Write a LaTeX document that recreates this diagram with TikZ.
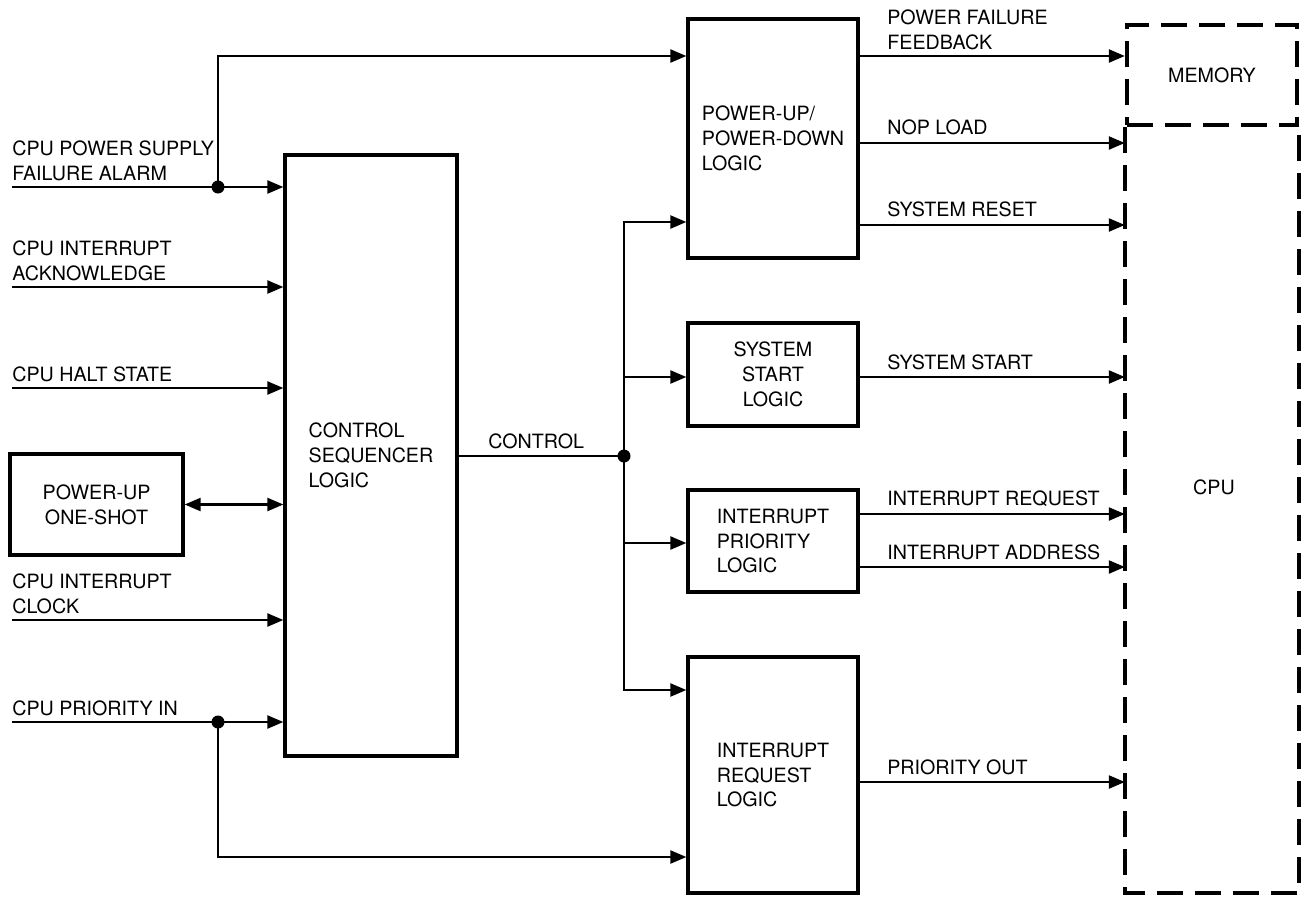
\documentclass[tikz,border=0pt]{standalone}
\usepackage{fontspec}
\setmainfont{TeX Gyre Heros}
\usetikzlibrary{arrows.meta,positioning}
\newcommand\sigfont{\fontsize{11.2}{14.2}\selectfont}
\tikzset{
  block/.style={draw, line width=1.9pt, align=left, font=\sigfont, inner sep=0pt},
  sig/.style={line width=1.3pt, -{Triangle[length=0.32cm,width=0.26cm]}},
  wire/.style={line width=1.3pt},
  lbl/.style={anchor=south west, inner sep=0pt, align=left, font=\sigfont},
  dot/.style={circle, fill, inner sep=0pt, minimum size=0.26cm},
  cut/.style={line width=2.5pt, dash pattern=on 0.52cm off 0.24cm}
}
\begin{document}
\begin{tikzpicture}[x=0.02cm, y=-0.02cm]
\useasboundingbox (0,0) rectangle (1309,900);
% blocks
\node[block, minimum width=3.44cm, minimum height=12.02cm] (csl) at (371,455.5) {CONTROL\\SEQUENCER\\LOGIC};
\node[block, align=center, minimum width=3.46cm, minimum height=2.02cm] (one) at (96.5,504.5) {POWER-UP\\ONE-SHOT};
\node[block, minimum width=3.4cm, minimum height=4.78cm] (pupd) at (773,138.5) {POWER-UP/\\POWER-DOWN\\LOGIC};
\node[block, align=center, minimum width=3.4cm, minimum height=2.06cm] (ssl) at (773,374.5) {SYSTEM\\START\\LOGIC};
\node[block, minimum width=3.4cm, minimum height=2.04cm] (ipl) at (773,541) {INTERRUPT\\PRIORITY\\LOGIC};
\node[block, minimum width=3.4cm, minimum height=4.72cm] (irl) at (773,775) {INTERRUPT\\REQUEST\\LOGIC};
\node[draw, cut, font=\sigfont, minimum width=3.4cm, minimum height=2cm] (mem) at (1212,75) {MEMORY};
\node[font=\sigfont] (cpu) at (1214,487) {CPU};
\coordinate (cpubase) at (1127,893);
\draw[cut] (mem.south west) -- (mem.south west |- cpubase) -- (mem.south east |- cpubase) -- (mem.south east);

% input signals
\coordinate (in1) at (12,187);
\coordinate (in2) at (12,287);
\coordinate (in3) at (12,388);
\coordinate (in4) at (12,620);
\coordinate (in5) at (12,722);
\draw[sig] (in1) -- (in1 -| csl.west);
\draw[sig] (in2) -- (in2 -| csl.west);
\draw[sig] (in3) -- (in3 -| csl.west);
\draw[sig] (in4) -- (in4 -| csl.west);
\draw[sig] (in5) -- (in5 -| csl.west);
\node[lbl] (l1) at (12,181) {CPU POWER SUPPLY\\FAILURE ALARM};
\node[lbl] (l2) at (12,281) {CPU INTERRUPT\\ACKNOWLEDGE};
\node[lbl] (l3) at (12,382) {CPU HALT STATE};
\node[lbl] (l4) at (12,614) {CPU INTERRUPT\\CLOCK};
\node[lbl] (l5) at (12,716) {CPU PRIORITY IN};
\draw[wire, {Triangle[length=0.32cm,width=0.26cm]}-{Triangle[length=0.32cm,width=0.26cm]}] (one.east) -- (one.east -| csl.west);

% junctions
\node[dot] (j1) at (218,187) {};
\node[dot] (j2) at (218,722) {};
\coordinate (r1) at (0,56);
\coordinate (r9) at (0,857);
\draw[sig] (j1.center) |- (pupd.west |- r1);
\draw[sig] (j2.center) |- (irl.west |- r9);

% control bus
\node[dot] (bus) at (624,456) {};
\draw[wire] (csl.east |- bus) -- (bus.center);
\node[lbl] (ctl) at (488,449) {CONTROL};
\coordinate (b1) at (0,222);
\coordinate (b2) at (0,377);
\coordinate (b3) at (0,543);
\coordinate (b4) at (0,690);
\draw[sig] (bus.center) |- (pupd.west |- b1);
\draw[sig] (bus.center) |- (irl.west |- b4);
\draw[sig] (bus.center |- b2) -- (ssl.west |- b2);
\draw[sig] (bus.center |- b3) -- (ipl.west |- b3);

% outputs
\coordinate (r2) at (0,143);
\coordinate (r3) at (0,225);
\coordinate (r5) at (0,514);
\coordinate (r6) at (0,567);
\coordinate (r7) at (0,782);
\draw[sig] (pupd.east |- r1) -- (mem.west |- r1);
\draw[sig] (pupd.east |- r2) -- (mem.west |- r2);
\draw[sig] (pupd.east |- r3) -- (mem.west |- r3);
\draw[sig] (ssl.east |- b2) -- (mem.west |- b2);
\draw[sig] (ipl.east |- r5) -- (mem.west |- r5);
\draw[sig] (ipl.east |- r6) -- (mem.west |- r6);
\draw[sig] (irl.east |- r7) -- (mem.west |- r7);
\node[lbl] (o1) at (887,50) {POWER FAILURE\\FEEDBACK};
\node[lbl] (o2) at (887,135) {NOP LOAD};
\node[lbl] (o3) at (887,217) {SYSTEM RESET};
\node[lbl] (o4) at (887,370) {SYSTEM START};
\node[lbl] (o5) at (887,507) {INTERRUPT REQUEST};
\node[lbl] (o6) at (887,560) {INTERRUPT ADDRESS};
\node[lbl] (o7) at (887,775) {PRIORITY OUT};
\end{tikzpicture}
\end{document}
